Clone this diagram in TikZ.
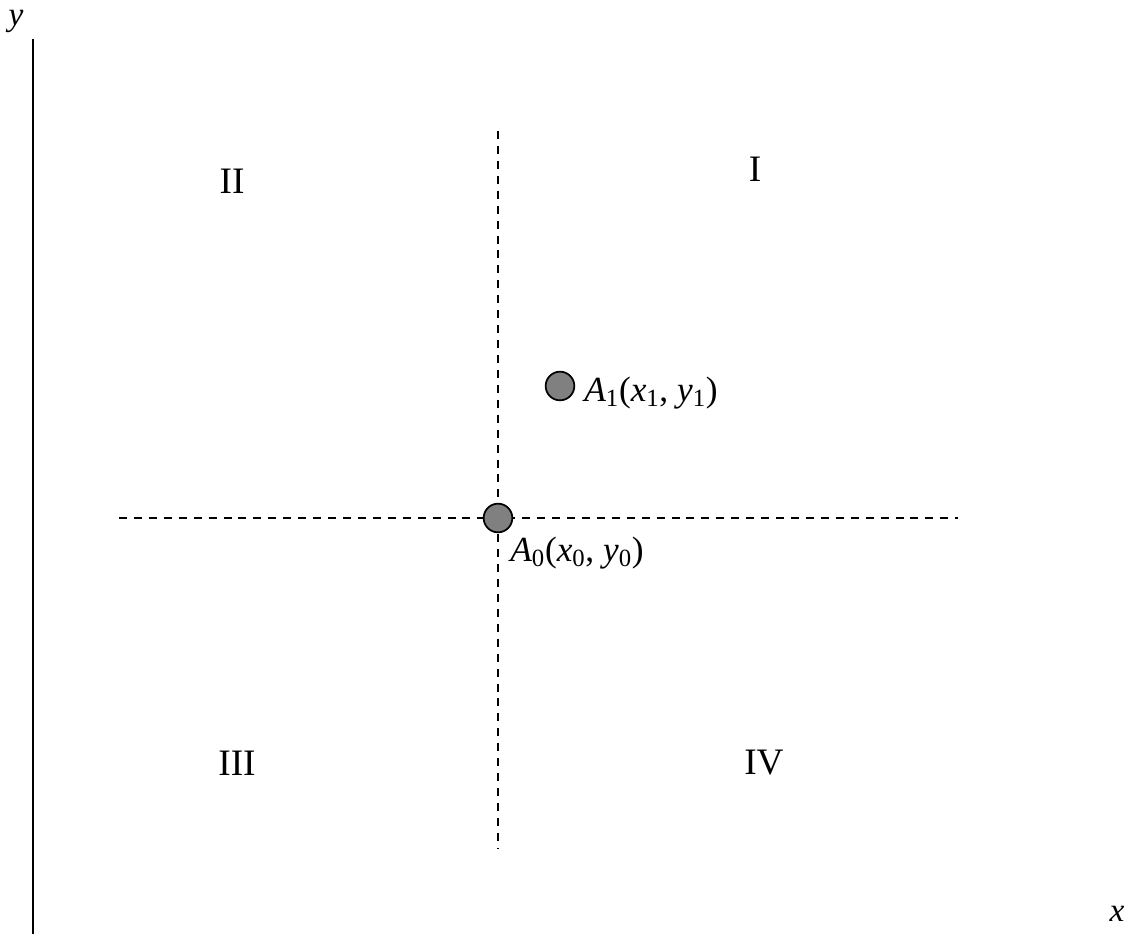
\documentclass[tikz,border=0pt]{standalone}
\usepackage{fontspec}
\setmainfont{Liberation Serif}[ItalicFont={Liberation Serif Italic}]
\usetikzlibrary{positioning}

\begin{document}
\begin{tikzpicture}[
  x=0.75pt, y=-0.75pt,
  axis/.style={line width=1.4pt, draw=black},
  guide/.style={line width=1.2pt, draw=black, dash pattern=on 6pt off 5.2pt},
  pt/.style={circle, draw=black, line width=1.3pt, fill=black!50, minimum size=21.5pt, inner sep=0pt},
  quad/.style={font=\fontsize{28}{30}\selectfont, inner sep=0pt},
  lbl/.style={font=\fontsize{26.5}{29}\selectfont, inner sep=0pt},
  axlbl/.style={font=\fontsize{25}{28}\selectfont\itshape, inner sep=0pt}
]
\useasboundingbox (0,0) rectangle (1136,934);

% axis and its labels
\coordinate (ytop) at (33,39);
\coordinate (ybot) at (33,934);
\draw[axis] (ytop) -- (ybot);
\node[axlbl] (ylab) at (16,21) {y};
\node[axlbl] (xlab) at (1117,914) {x};

% dashed guides through A0
\coordinate (hl) at (119,518);
\coordinate (hr) at (958,518);
\coordinate (vt) at (498,131);
\coordinate (vb) at (498,848);
\draw[guide] (hl) -- (hr);
\draw[guide] (vt) -- (vb);

% points
\node[pt] (pA0) at (498,518) {};
\node[pt] (pA1) at (560,386) {};
\node[lbl, anchor=west] (labA1) at (584,393) {\textit{A}\textsubscript{1}(\textit{x}\textsubscript{1}, \textit{y}\textsubscript{1})};
\node[lbl, anchor=west] (labA0) at (510,553) {\textit{A}\textsubscript{0}(\textit{x}\textsubscript{0}, \textit{y}\textsubscript{0})};

% quadrants
\node[quad] (qI) at (755,169) {I};
\node[quad] (qII) at (232,181) {II};
\node[quad] (qIII) at (237,763) {III};
\node[quad] (qIV) at (764,763) {IV};
\end{tikzpicture}
\end{document}
